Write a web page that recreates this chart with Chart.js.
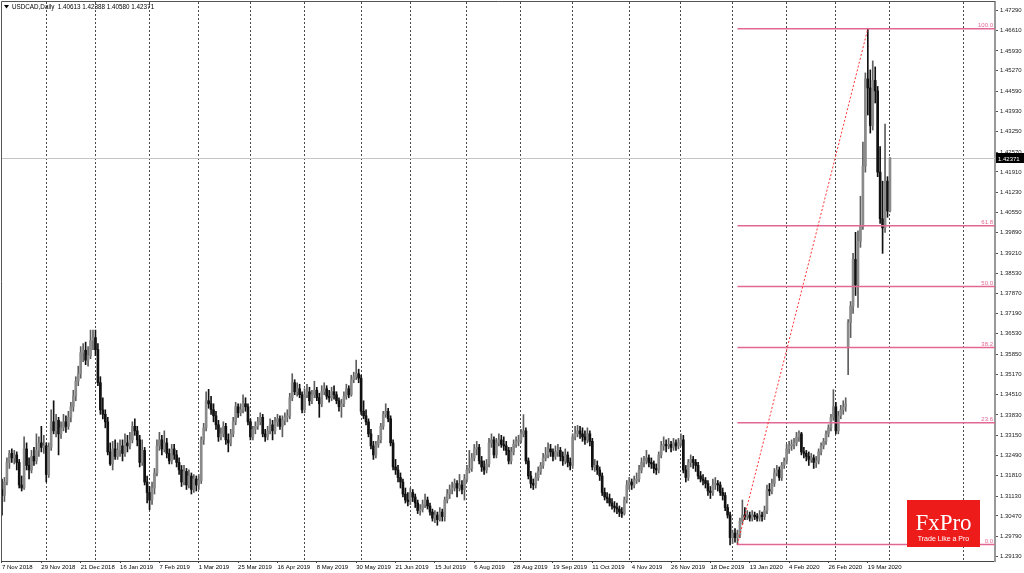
<!DOCTYPE html>
<html>
<head>
<meta charset="utf-8">
<title>USDCAD Daily</title>
<script src="https://cdn.jsdelivr.net/npm/chart.js@4.4.1/dist/chart.umd.min.js"></script>
<style>
  html, body { margin: 0; padding: 0; background: #fff; overflow: hidden; }
  #usdcad-chart { display: block; }
</style>
</head>
<body>
<canvas id="usdcad-chart" width="1024" height="573"></canvas>
<script>
// date labels, one every 16 daily bars starting at bar 0
const dateLabels = ['7 Nov 2018', '29 Nov 2018', '21 Dec 2018', '16 Jan 2019', '7 Feb 2019', '1 Mar 2019',
  '25 Mar 2019', '16 Apr 2019', '8 May 2019', '30 May 2019', '21 Jun 2019', '15 Jul 2019', '6 Aug 2019',
  '28 Aug 2019', '19 Sep 2019', '11 Oct 2019', '4 Nov 2019', '26 Nov 2019', '18 Dec 2019', '13 Jan 2020',
  '4 Feb 2020', '26 Feb 2020', '19 Mar 2020'];
const labelStep = 16;

// bar index of the first trading day of each month (vertical grid)
const monthStarts = [18, 38, 60, 80, 101, 123, 146, 166, 189, 211, 232, 255, 276, 297, 319, 339, 361, 391];

// price scale labels as MT4 prints them
const priceTicks = [1.47290, 1.46610, 1.45930, 1.45270, 1.44590, 1.43930, 1.43250, 1.42570, 1.41910,
  1.41230, 1.40550, 1.39890, 1.39210, 1.38530, 1.37870, 1.37190, 1.36530, 1.35850, 1.35170, 1.34510,
  1.33830, 1.33150, 1.32490, 1.31810, 1.31130, 1.30470, 1.29790, 1.29130];

const opens = [
  1.3135,1.3115,1.3160,1.3225,1.3255,1.3240,1.3250,1.3225,1.3150,1.3140,
  1.3270,1.3215,1.3200,1.3245,1.3230,1.3265,1.3290,1.3275,1.3280,1.3185,
  1.3275,1.3360,1.3330,1.3365,1.3320,1.3340,1.3360,1.3345,1.3375,1.3410,
  1.3445,1.3495,1.3520,1.3590,1.3598,1.3565,1.3580,1.3630,1.3640,1.3600,
  1.3490,1.3400,1.3385,1.3360,1.3260,1.3220,1.3270,1.3245,1.3265,1.3280,
  1.3255,1.3290,1.3280,1.3300,1.3345,1.3330,1.3300,1.3225,1.3265,1.3160,
  1.3125,1.3100,1.3140,1.3190,1.3280,1.3300,1.3270,1.3290,1.3255,1.3230,
  1.3270,1.3250,1.3225,1.3200,1.3160,1.3195,1.3150,1.3180,1.3135,1.3170,
  1.3150,1.3165,1.3300,1.3340,1.3430,1.3420,1.3400,1.3380,1.3350,1.3310,
  1.3320,1.3345,1.3300,1.3290,1.3320,1.3360,1.3410,1.3390,1.3400,1.3420,
  1.3410,1.3360,1.3310,1.3335,1.3345,1.3360,1.3375,1.3320,1.3310,1.3330,
  1.3350,1.3330,1.3360,1.3370,1.3345,1.3365,1.3375,1.3380,1.3440,1.3490,
  1.3460,1.3470,1.3450,1.3400,1.3450,1.3460,1.3430,1.3450,1.3465,1.3440,
  1.3420,1.3460,1.3470,1.3445,1.3440,1.3460,1.3450,1.3430,1.3410,1.3420,
  1.3445,1.3470,1.3450,1.3500,1.3510,1.3520,1.3505,1.3395,1.3380,1.3360,
  1.3320,1.3280,1.3250,1.3285,1.3300,1.3345,1.3385,1.3395,1.3370,1.3290,
  1.3210,1.3200,1.3175,1.3160,1.3120,1.3100,1.3095,1.3125,1.3110,1.3090,
  1.3065,1.3070,1.3085,1.3100,1.3080,1.3060,1.3040,1.3050,1.3035,1.3060,
  1.3045,1.3100,1.3120,1.3135,1.3140,1.3155,1.3140,1.3150,1.3135,1.3170,
  1.3200,1.3205,1.3240,1.3270,1.3275,1.3230,1.3210,1.3200,1.3220,1.3290,
  1.3300,1.3250,1.3290,1.3300,1.3285,1.3280,1.3265,1.3230,1.3260,1.3285,
  1.3295,1.3300,1.3320,1.3330,1.3230,1.3180,1.3155,1.3150,1.3175,1.3195,
  1.3215,1.3240,1.3250,1.3270,1.3260,1.3245,1.3260,1.3265,1.3245,1.3230,
  1.3250,1.3225,1.3215,1.3310,1.3320,1.3330,1.3320,1.3310,1.3300,1.3320,
  1.3295,1.3210,1.3215,1.3200,1.3180,1.3125,1.3110,1.3105,1.3090,1.3080,
  1.3075,1.3070,1.3060,1.3055,1.3100,1.3150,1.3160,1.3150,1.3165,1.3170,
  1.3200,1.3225,1.3230,1.3240,1.3225,1.3220,1.3205,1.3200,1.3250,1.3280,
  1.3285,1.3280,1.3285,1.3275,1.3290,1.3280,1.3290,1.3300,1.3200,1.3175,
  1.3225,1.3235,1.3225,1.3215,1.3180,1.3170,1.3165,1.3155,1.3130,1.3125,
  1.3150,1.3155,1.3150,1.3125,1.3115,1.3075,1.3050,1.2975,1.2990,1.2975,
  1.2985,1.3030,1.3050,1.3045,1.3050,1.3040,1.3050,1.3045,1.3040,1.3050,
  1.3045,1.3065,1.3135,1.3130,1.3155,1.3190,1.3200,1.3175,1.3215,1.3230,
  1.3270,1.3280,1.3285,1.3290,1.3310,1.3320,1.3260,1.3255,1.3245,1.3235,
  1.3240,1.3225,1.3230,1.3260,1.3280,1.3295,1.3320,1.3340,1.3375,1.3410,
  1.3330,1.3380,1.3400,1.3410,1.3610,1.3690,1.3745,1.3900,1.3815,1.3960,
  1.4010,1.4210,1.4500,1.4470,1.4345,1.4495,1.4460,1.4190,1.4035,1.4005,
  1.4160,1.40613
];

const highs = [
  1.3170,1.3175,1.3240,1.3265,1.3270,1.3265,1.3260,1.3235,1.3180,1.3310,
  1.3290,1.3240,1.3265,1.3275,1.3320,1.3310,1.3345,1.3315,1.3290,1.3290,
  1.3400,1.3430,1.3385,1.3375,1.3360,1.3385,1.3380,1.3395,1.3425,1.3465,
  1.3510,1.3545,1.3610,1.3620,1.3625,1.3610,1.3665,1.3665,1.3665,1.3620,
  1.3510,1.3440,1.3400,1.3375,1.3290,1.3295,1.3300,1.3290,1.3300,1.3300,
  1.3320,1.3315,1.3325,1.3360,1.3370,1.3345,1.3315,1.3300,1.3275,1.3180,
  1.3145,1.3160,1.3205,1.3300,1.3325,1.3315,1.3330,1.3305,1.3270,1.3285,
  1.3285,1.3265,1.3240,1.3215,1.3215,1.3205,1.3200,1.3190,1.3185,1.3180,
  1.3185,1.3310,1.3355,1.3460,1.3468,1.3445,1.3420,1.3395,1.3365,1.3340,
  1.3360,1.3355,1.3320,1.3335,1.3375,1.3425,1.3420,1.3420,1.3450,1.3440,
  1.3420,1.3370,1.3345,1.3360,1.3375,1.3390,1.3385,1.3335,1.3345,1.3370,
  1.3365,1.3375,1.3385,1.3380,1.3380,1.3390,1.3400,1.3455,1.3520,1.3500,
  1.3490,1.3485,1.3460,1.3470,1.3485,1.3475,1.3465,1.3495,1.3475,1.3455,
  1.3480,1.3490,1.3480,1.3465,1.3475,1.3480,1.3460,1.3440,1.3435,1.3460,
  1.3485,1.3480,1.3515,1.3525,1.3565,1.3535,1.3515,1.3430,1.3400,1.3370,
  1.3335,1.3295,1.3295,1.3315,1.3355,1.3395,1.3420,1.3405,1.3380,1.3300,
  1.3235,1.3215,1.3190,1.3170,1.3140,1.3125,1.3140,1.3135,1.3120,1.3100,
  1.3085,1.3100,1.3120,1.3110,1.3090,1.3070,1.3065,1.3060,1.3075,1.3070,
  1.3110,1.3135,1.3150,1.3160,1.3170,1.3165,1.3185,1.3165,1.3185,1.3215,
  1.3265,1.3255,1.3285,1.3295,1.3285,1.3245,1.3230,1.3235,1.3305,1.3320,
  1.3310,1.3305,1.3320,1.3315,1.3310,1.3295,1.3275,1.3275,1.3300,1.3310,
  1.3315,1.3335,1.3384,1.3340,1.3240,1.3195,1.3170,1.3190,1.3210,1.3225,
  1.3255,1.3275,1.3290,1.3285,1.3270,1.3280,1.3285,1.3275,1.3260,1.3270,
  1.3260,1.3240,1.3320,1.3345,1.3348,1.3345,1.3340,1.3330,1.3340,1.3330,
  1.3305,1.3235,1.3230,1.3210,1.3190,1.3140,1.3125,1.3120,1.3105,1.3095,
  1.3090,1.3080,1.3075,1.3110,1.3165,1.3175,1.3170,1.3180,1.3190,1.3215,
  1.3240,1.3245,1.3265,1.3250,1.3240,1.3230,1.3220,1.3260,1.3295,1.3310,
  1.3300,1.3305,1.3295,1.3305,1.3300,1.3305,1.3320,1.3315,1.3215,1.3235,
  1.3250,1.3245,1.3235,1.3225,1.3195,1.3185,1.3175,1.3165,1.3145,1.3170,
  1.3175,1.3165,1.3160,1.3140,1.3125,1.3085,1.3060,1.3000,1.3005,1.3000,
  1.3040,1.3100,1.3075,1.3065,1.3060,1.3065,1.3060,1.3055,1.3065,1.3060,
  1.3080,1.3150,1.3155,1.3170,1.3205,1.3215,1.3210,1.3225,1.3240,1.3285,
  1.3295,1.3300,1.3305,1.3325,1.3330,1.3325,1.3275,1.3265,1.3260,1.3255,
  1.3250,1.3245,1.3270,1.3290,1.3305,1.3330,1.3350,1.3385,1.3467,1.3425,
  1.3395,1.3415,1.3430,1.3440,1.3700,1.3760,1.3920,1.3990,1.3995,1.4110,
  1.4290,1.4520,1.4667,1.4530,1.4560,1.4540,1.4475,1.4275,1.4160,1.4350,
  1.4175,1.42388
];

const lows = [
  1.3050,1.3095,1.3150,1.3205,1.3225,1.3220,1.3200,1.3140,1.3130,1.3135,
  1.3200,1.3170,1.3190,1.3215,1.3220,1.3245,1.3260,1.3255,1.3160,1.3175,
  1.3265,1.3320,1.3310,1.3250,1.3305,1.3330,1.3325,1.3335,1.3360,1.3395,
  1.3430,1.3480,1.3505,1.3560,1.3550,1.3545,1.3570,1.3600,1.3580,1.3480,
  1.3385,1.3370,1.3340,1.3250,1.3215,1.3200,1.3235,1.3235,1.3245,1.3230,
  1.3245,1.3260,1.3270,1.3290,1.3315,1.3280,1.3210,1.3215,1.3150,1.3090,
  1.3068,1.3085,1.3120,1.3180,1.3265,1.3250,1.3260,1.3240,1.3220,1.3220,
  1.3235,1.3210,1.3185,1.3145,1.3150,1.3135,1.3140,1.3120,1.3125,1.3130,
  1.3135,1.3155,1.3285,1.3330,1.3405,1.3385,1.3360,1.3335,1.3295,1.3300,
  1.3310,1.3285,1.3260,1.3280,1.3310,1.3350,1.3375,1.3380,1.3390,1.3395,
  1.3350,1.3300,1.3300,1.3320,1.3335,1.3350,1.3310,1.3295,1.3300,1.3320,
  1.3300,1.3320,1.3345,1.3335,1.3310,1.3350,1.3360,1.3370,1.3430,1.3450,
  1.3445,1.3440,1.3390,1.3390,1.3440,1.3415,1.3420,1.3440,1.3430,1.3375,
  1.3410,1.3450,1.3435,1.3425,1.3430,1.3435,1.3420,1.3395,1.3375,1.3410,
  1.3435,1.3440,1.3445,1.3490,1.3500,1.3490,1.3385,1.3370,1.3350,1.3310,
  1.3270,1.3235,1.3240,1.3275,1.3290,1.3335,1.3375,1.3360,1.3280,1.3200,
  1.3185,1.3160,1.3140,1.3110,1.3090,1.3080,1.3085,1.3095,1.3075,1.3055,
  1.3050,1.3060,1.3075,1.3070,1.3050,1.3030,1.3025,1.3016,1.3030,1.3030,
  1.3030,1.3090,1.3105,1.3120,1.3130,1.3110,1.3130,1.3120,1.3100,1.3160,
  1.3190,1.3195,1.3230,1.3250,1.3220,1.3195,1.3185,1.3190,1.3210,1.3275,
  1.3240,1.3240,1.3280,1.3275,1.3265,1.3250,1.3220,1.3220,1.3250,1.3275,
  1.3280,1.3290,1.3310,1.3220,1.3170,1.3140,1.3135,1.3140,1.3165,1.3185,
  1.3205,1.3230,1.3240,1.3245,1.3230,1.3235,1.3245,1.3230,1.3215,1.3220,
  1.3210,1.3200,1.3205,1.3300,1.3310,1.3305,1.3295,1.3285,1.3290,1.3280,
  1.3200,1.3195,1.3185,1.3165,1.3115,1.3100,1.3090,1.3080,1.3070,1.3060,
  1.3055,1.3045,1.3042,1.3050,1.3090,1.3135,1.3135,1.3140,1.3155,1.3160,
  1.3190,1.3210,1.3220,1.3210,1.3205,1.3190,1.3185,1.3190,1.3240,1.3265,
  1.3260,1.3270,1.3260,1.3265,1.3265,1.3270,1.3280,1.3190,1.3160,1.3165,
  1.3210,1.3205,1.3195,1.3170,1.3160,1.3150,1.3140,1.3115,1.3105,1.3115,
  1.3135,1.3130,1.3115,1.3100,1.3065,1.3040,1.2951,1.2955,1.2960,1.2952,
  1.2975,1.3020,1.3035,1.3035,1.3030,1.3030,1.3035,1.3030,1.3030,1.3030,
  1.3035,1.3055,1.3115,1.3120,1.3145,1.3180,1.3165,1.3165,1.3205,1.3220,
  1.3255,1.3265,1.3270,1.3280,1.3295,1.3250,1.3240,1.3230,1.3215,1.3225,
  1.3205,1.3208,1.3220,1.3250,1.3270,1.3285,1.3310,1.3330,1.3365,1.3320,
  1.3320,1.3370,1.3385,1.3395,1.3517,1.3640,1.3720,1.3780,1.3740,1.3940,
  1.4000,1.4190,1.4380,1.4320,1.4330,1.4420,1.4175,1.4020,1.3920,1.3990,
  1.4040,1.40580
];

const closes = [
  1.3115,1.3160,1.3225,1.3255,1.3240,1.3250,1.3225,1.3150,1.3140,1.3270,
  1.3215,1.3200,1.3245,1.3230,1.3265,1.3290,1.3275,1.3280,1.3185,1.3275,
  1.3360,1.3330,1.3365,1.3320,1.3340,1.3360,1.3345,1.3375,1.3410,1.3445,
  1.3495,1.3520,1.3590,1.3598,1.3565,1.3580,1.3630,1.3640,1.3600,1.3490,
  1.3400,1.3385,1.3360,1.3260,1.3220,1.3270,1.3245,1.3265,1.3280,1.3255,
  1.3290,1.3280,1.3300,1.3345,1.3330,1.3300,1.3225,1.3265,1.3160,1.3125,
  1.3100,1.3140,1.3190,1.3280,1.3300,1.3270,1.3290,1.3255,1.3230,1.3270,
  1.3250,1.3225,1.3200,1.3160,1.3195,1.3150,1.3180,1.3135,1.3170,1.3150,
  1.3165,1.3300,1.3340,1.3430,1.3420,1.3400,1.3380,1.3350,1.3310,1.3320,
  1.3345,1.3300,1.3290,1.3320,1.3360,1.3410,1.3390,1.3400,1.3420,1.3410,
  1.3360,1.3310,1.3335,1.3345,1.3360,1.3375,1.3320,1.3310,1.3330,1.3350,
  1.3330,1.3360,1.3370,1.3345,1.3365,1.3375,1.3380,1.3440,1.3490,1.3460,
  1.3470,1.3450,1.3400,1.3450,1.3460,1.3430,1.3450,1.3465,1.3440,1.3420,
  1.3460,1.3470,1.3445,1.3440,1.3460,1.3450,1.3430,1.3410,1.3420,1.3445,
  1.3470,1.3450,1.3500,1.3510,1.3520,1.3505,1.3395,1.3380,1.3360,1.3320,
  1.3280,1.3250,1.3285,1.3300,1.3345,1.3385,1.3395,1.3370,1.3290,1.3210,
  1.3200,1.3175,1.3160,1.3120,1.3100,1.3095,1.3125,1.3110,1.3090,1.3065,
  1.3070,1.3085,1.3100,1.3080,1.3060,1.3040,1.3050,1.3035,1.3060,1.3045,
  1.3100,1.3120,1.3135,1.3140,1.3155,1.3140,1.3150,1.3135,1.3170,1.3200,
  1.3205,1.3240,1.3270,1.3275,1.3230,1.3210,1.3200,1.3220,1.3290,1.3300,
  1.3250,1.3290,1.3300,1.3285,1.3280,1.3265,1.3230,1.3260,1.3285,1.3295,
  1.3300,1.3320,1.3330,1.3230,1.3180,1.3155,1.3150,1.3175,1.3195,1.3215,
  1.3240,1.3250,1.3270,1.3260,1.3245,1.3260,1.3265,1.3245,1.3230,1.3250,
  1.3225,1.3215,1.3310,1.3320,1.3330,1.3320,1.3310,1.3300,1.3320,1.3295,
  1.3210,1.3215,1.3200,1.3180,1.3125,1.3110,1.3105,1.3090,1.3080,1.3075,
  1.3070,1.3060,1.3055,1.3100,1.3150,1.3160,1.3150,1.3165,1.3170,1.3200,
  1.3225,1.3230,1.3240,1.3225,1.3220,1.3205,1.3200,1.3250,1.3280,1.3285,
  1.3280,1.3285,1.3275,1.3290,1.3280,1.3290,1.3300,1.3200,1.3175,1.3225,
  1.3235,1.3225,1.3215,1.3180,1.3170,1.3165,1.3155,1.3130,1.3125,1.3150,
  1.3155,1.3150,1.3125,1.3115,1.3075,1.3050,1.2975,1.2990,1.2975,1.2985,
  1.3030,1.3050,1.3045,1.3050,1.3040,1.3050,1.3045,1.3040,1.3050,1.3045,
  1.3065,1.3135,1.3130,1.3155,1.3190,1.3200,1.3175,1.3215,1.3230,1.3270,
  1.3280,1.3285,1.3290,1.3310,1.3320,1.3260,1.3255,1.3245,1.3235,1.3240,
  1.3225,1.3230,1.3260,1.3280,1.3295,1.3320,1.3340,1.3375,1.3410,1.3330,
  1.3380,1.3400,1.3410,1.3420,1.3690,1.3745,1.3900,1.3815,1.3960,1.4010,
  1.4210,1.4500,1.4470,1.4345,1.4495,1.4460,1.4190,1.4035,1.4005,1.4160,
  1.4061,1.42371
];

// Fibonacci retracement drawn from the Dec/Jan low to the March high
const fibLabels = ['0.0', '23.6', '38.2', '50.0', '61.8', '100.0'];
const fibPrices = [1.2952, 1.3357, 1.3607, 1.3810, 1.4012, 1.4667];
const fibStartBar = 299;
const fibHighBar = 352;

const xMin = -0.4, xMax = 403.7;
const yMin = 1.28973, yMax = 1.47557;

const bullColor = '#8a8a8a';
const bullWick = '#5e5e5e';
const bearColor = '#111111';
const fibColor = 'rgba(226, 104, 148, 1)';
const tickFont = { family: 'Liberation Sans', size: 6 };

const isBull = (i) => closes[i] >= opens[i];
const last = closes.length - 1;

const fibDatasets = fibPrices.map((p, k) => ({
  type: 'line',
  label: 'fib ' + fibLabels[k],
  data: [{ x: fibStartBar, y: p }, { x: xMax, y: p }],
  borderColor: fibColor,
  borderWidth: 1.5,
  pointRadius: 0,
  order: 1
}));

const chartDecor = {
  id: 'chartDecor',
  beforeDatasetsDraw(chart) {
    const { ctx, chartArea: a, scales: { y } } = chart;
    const py = Math.round(y.getPixelForValue(closes[last])) + 0.5;
    ctx.save();
    ctx.strokeStyle = '#c4c4c4';
    ctx.lineWidth = 1;
    ctx.beginPath();
    ctx.moveTo(a.left, py);
    ctx.lineTo(a.right, py);
    ctx.stroke();
    ctx.restore();
  },
  afterDraw(chart) {
    const { ctx, chartArea: a, scales: { y } } = chart;
    ctx.save();

    // frame left/top
    ctx.strokeStyle = '#555';
    ctx.lineWidth = 1;
    ctx.beginPath();
    ctx.moveTo(a.left + 0.5, a.bottom);
    ctx.lineTo(a.left + 0.5, a.top - 0.5);
    ctx.lineTo(a.right, a.top - 0.5);
    ctx.stroke();

    // fib level labels
    ctx.font = '6px "Liberation Sans"';
    ctx.fillStyle = fibColor;
    ctx.textAlign = 'right';
    ctx.textBaseline = 'alphabetic';
    fibPrices.forEach((p, k) => {
      ctx.fillText(fibLabels[k], a.right - 2, y.getPixelForValue(p) - 1.5);
    });

    // header
    ctx.fillStyle = '#000';
    ctx.beginPath();
    ctx.moveTo(4, 5);
    ctx.lineTo(9, 5);
    ctx.lineTo(6.5, 8.5);
    ctx.closePath();
    ctx.fill();
    ctx.textAlign = 'left';
    ctx.font = '6.3px "Liberation Sans"';
    const hdr = 'USDCAD,Daily  ' + [opens[last], highs[last], lows[last], closes[last]].map(v => v.toFixed(5)).join(' ');
    ctx.fillText(hdr, 12, 9);

    // current price box on the axis
    const py = Math.round(y.getPixelForValue(closes[last]));
    ctx.fillStyle = '#000';
    ctx.fillRect(a.right + 1, py - 5, 1024 - a.right - 1, 10);
    ctx.fillStyle = '#fff';
    ctx.font = '6px "Liberation Sans"';
    ctx.fillText(closes[last].toFixed(5), a.right + 3, py + 2.5);

    // broker badge
    ctx.fillStyle = '#ee1b1b';
    ctx.fillRect(907, 500, 73, 47);
    ctx.fillStyle = '#fff';
    ctx.textAlign = 'center';
    ctx.font = '23px "Liberation Serif"';
    ctx.fillText('FxPro', 943.5, 530);
    ctx.font = '7px "Liberation Sans"';
    ctx.fillText('Trade Like a Pro', 943.5, 541);

    ctx.restore();
  }
};

const ctx = document.getElementById('usdcad-chart');
new Chart(ctx, {
  type: 'bar',
  data: {
    datasets: [
      {
        type: 'line',
        label: 'swing',
        data: [{ x: fibStartBar, y: fibPrices[0] }, { x: fibHighBar, y: fibPrices[fibPrices.length - 1] }],
        borderColor: 'rgba(255, 40, 40, 0.95)',
        borderWidth: 1,
        borderDash: [2, 2],
        pointRadius: 0,
        order: 0
      },
      ...fibDatasets,
      {
        label: 'bodies',
        data: closes.map((c, i) => ({ x: i, y: [opens[i], c] })),
        backgroundColor: (c) => isBull(c.dataIndex) ? bullColor : bearColor,
        barThickness: 2,
        minBarLength: 1,
        grouped: false,
        order: 2
      },
      {
        label: 'wicks',
        data: closes.map((c, i) => ({ x: i, y: [lows[i], highs[i]] })),
        backgroundColor: (c) => isBull(c.dataIndex) ? bullWick : bearColor,
        barThickness: 1,
        grouped: false,
        order: 3
      }
    ]
  },
  options: {
    responsive: false,
    animation: false,
    events: [],
    layout: { padding: { left: 1, top: 2, right: 0, bottom: 0 } },
    scales: {
      x: {
        type: 'linear',
        position: 'bottom',
        min: xMin,
        max: xMax,
        offset: false,
        afterBuildTicks: (axis) => {
          axis.ticks = dateLabels.map((d, k) => ({ value: k * labelStep }));
        },
        afterFit: (axis) => { axis.height = 12; axis.paddingLeft = 0; axis.paddingRight = 0; },
        ticks: {
          callback: (v) => dateLabels[Math.round(v / labelStep)],
          align: 'start',
          autoSkip: false,
          maxRotation: 0,
          padding: 1,
          color: '#000',
          font: tickFont
        },
        grid: { display: true, drawOnChartArea: false, drawTicks: true, tickLength: 2, color: '#444', offset: false },
        border: { display: true, color: '#444', width: 1 }
      },
      xg: {
        type: 'linear',
        axis: 'x',
        position: 'top',
        min: xMin,
        max: xMax,
        offset: false,
        afterBuildTicks: (axis) => {
          axis.ticks = monthStarts.map(v => ({ value: v }));
        },
        afterFit: (axis) => { axis.height = 0; axis.paddingLeft = 0; axis.paddingRight = 0; },
        ticks: { display: false },
        grid: { display: true, drawOnChartArea: true, drawTicks: false, color: '#4a4a4a', lineWidth: 1, offset: false },
        border: { display: false, dash: [2, 2] }
      },
      y: {
        type: 'linear',
        position: 'right',
        min: yMin,
        max: yMax,
        afterBuildTicks: (axis) => {
          axis.ticks = priceTicks.map(v => ({ value: v }));
        },
        afterFit: (axis) => { axis.width = 29; axis.paddingTop = 0; axis.paddingBottom = 0; },
        ticks: {
          callback: (v) => Number(v).toFixed(5),
          padding: 2,
          color: '#222',
          font: tickFont
        },
        grid: { display: true, drawOnChartArea: false, drawTicks: true, tickLength: 3, color: '#555' },
        border: { display: true, color: '#999', width: 2 }
      }
    },
    plugins: {
      legend: { display: false },
      tooltip: { enabled: false }
    }
  },
  plugins: [chartDecor]
});
</script>
</body>
</html>
